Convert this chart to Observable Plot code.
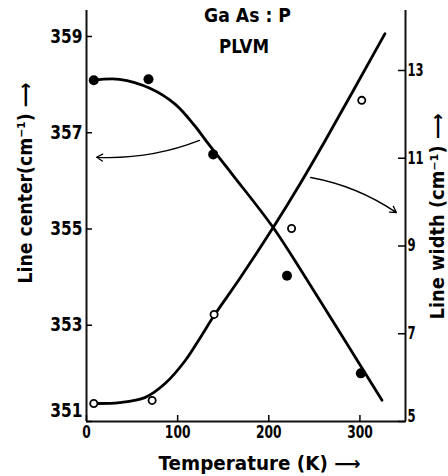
<!DOCTYPE html>
<html><head><meta charset="utf-8">
<script src="https://cdn.jsdelivr.net/npm/d3@7"></script>
<script src="https://cdn.jsdelivr.net/npm/@observablehq/plot@0.6"></script>
<style>
body{margin:0;background:#fff;}
#chart svg{font-family:"DejaVu Sans",sans-serif;}
#chart svg text{font-weight:700;}
</style></head><body><div id="chart"></div>
<script>
const title = "Ga As : P";
const subtitle = "PLVM";
const xLabel = "Temperature (K) \u27F6";
const yLeftLabel = "Line center(cm\u207B\u00B9) \u27F6";
const yRightLabel = "Line width (cm\u207B\u00B9) \u27F6";

const xTicks = [0, 100, 200, 300];
const centerTicks = [351, 353, 355, 357, 359];
const widthTicks = [5, 7, 9, 11, 13];

// measured points: line center (filled) and line width (open)
const centerDotT = [8, 68, 139, 220, 301];
const centerDotV = [358.09, 358.11, 356.55, 354.03, 352.00];
const widthDotT = [8, 72, 140, 225, 302];
const widthDotV = [5.41, 5.48, 7.44, 9.40, 12.32];

// drawn guide curves
const centerCurveT = [7.7, 36.1, 70.1, 97.5, 119.4, 132.5, 161.0, 204.8, 241.0, 324.2];
const centerCurveV = [358.09, 358.11, 357.92, 357.59, 357.13, 356.80, 356.11, 355.03, 353.97, 351.44];
const widthCurveT = [8.8, 36.1, 64.6, 86.5, 108.4, 124.8, 140.2, 167.6, 204.8, 234.4, 261.8, 327.5];
const widthCurveV = [5.41, 5.43, 5.55, 5.87, 6.39, 6.91, 7.42, 8.24, 9.42, 10.42, 11.40, 13.84];

// annotation arrows (temperature, line-center units)
const arrowFromT = [124, 246];
const arrowFromV = [356.84, 356.07];
const arrowToT = [11, 340];
const arrowToV = [356.49, 355.34];

const yMin = 351, yMax = 359.54, xMax = 350;
const k = 43.875 / 48.125;            // width units -> center units
const wToC = w => yMin + (w - 5) * k;
const cToW = c => 5 + (c - yMin) / k;

const centerDots = centerDotT.map((t, i) => ({t, v: centerDotV[i]}));
const widthDots = widthDotT.map((t, i) => ({t, v: wToC(widthDotV[i])}));
const centerCurve = centerCurveT.map((t, i) => ({t, v: centerCurveV[i]}));
const widthCurve = widthCurveT.map((t, i) => ({t, v: wToC(widthCurveV[i])}));
const arrows = arrowFromT.map((t, i) => ({x1: t, y1: arrowFromV[i], x2: arrowToT[i], y2: arrowToV[i]}));

const leftLen = 201, rightLen = 206;

const chart = Plot.plot({
  width: 448, height: 476,
  marginLeft: 86, marginRight: 43, marginTop: 10, marginBottom: 55,
  x: {domain: [0, xMax]},
  y: {domain: [yMin, yMax]},
  marks: [
    Plot.ruleX([0], {stroke: "#111", strokeWidth: 2}),
    Plot.ruleX([xMax], {stroke: "#111", strokeWidth: 2}),
    Plot.ruleY([yMin], {stroke: "#111", strokeWidth: 2}),
    Plot.axisX(xTicks, {tickSize: -6, tickPadding: 10, fontSize: 18, label: null, strokeWidth: 1.5}),
    Plot.axisY(centerTicks, {anchor: "left", tickSize: -6, tickPadding: 10, fontSize: 19.5, label: null, strokeWidth: 1.5}),
    Plot.axisY(widthTicks.map(wToC), {anchor: "right", tickSize: -8, tickPadding: 10, fontSize: 17, label: null, strokeWidth: 1.5,
      tickFormat: d => String(Math.round(cToW(d)))}),
    Plot.line(centerCurve, {x: "t", y: "v", curve: "catmull-rom", stroke: "#000", strokeWidth: 2.8}),
    Plot.line(widthCurve, {x: "t", y: "v", curve: "catmull-rom", stroke: "#000", strokeWidth: 2.8}),
    Plot.arrow(arrows, {x1: "x1", y1: "y1", x2: "x2", y2: "y2", bend: 12, stroke: "#000", strokeWidth: 1.3, headLength: 8}),
    Plot.dot(centerDots, {x: "t", y: "v", r: 5, fill: "#000", stroke: "none"}),
    Plot.dot(widthDots, {x: "t", y: "v", r: 3.6, fill: "#fff", stroke: "#000", strokeWidth: 1.8}),
    Plot.text([title], {frameAnchor: "top", dx: 1.5, dy: 5, fontSize: 20, lineAnchor: "middle"}),
    Plot.text([subtitle], {frameAnchor: "top", dx: -2, dy: 36.5, fontSize: 19, lineAnchor: "middle"}),
    Plot.text([xLabel], {frameAnchor: "bottom", dx: 13.5, dy: 42, fontSize: 19, lineAnchor: "middle"}),
    Plot.text([yLeftLabel], {frameAnchor: "left", dx: -61, dy: -33 + leftLen / 2, rotate: -90, textAnchor: "start", fontSize: 20, lineAnchor: "middle"}),
    Plot.text([yRightLabel], {frameAnchor: "right", dx: 32, dy: 0.5 + rightLen / 2, rotate: -90, textAnchor: "start", fontSize: 19, lineAnchor: "middle"})
  ]
});
document.getElementById("chart").append(chart);

// condensed lettering like the original figure
const svg = d3.select(chart);
function squeeze(sel, f) {
  sel.each(function() {
    const w = this.getComputedTextLength();
    this.setAttribute("textLength", (w * f).toFixed(1));
    this.setAttribute("lengthAdjust", "spacingAndGlyphs");
  });
}
function fit(sel, len) {
  sel.each(function() {
    this.setAttribute("textLength", len);
    this.setAttribute("lengthAdjust", "spacingAndGlyphs");
  });
}
function nudge(sel, label, dy) {
  sel.each(function() {
    if (this.textContent === label) {
      const t = this.getAttribute("transform") || "";
      this.setAttribute("transform", t + ` translate(0,${dy})`);
    }
  });
}
squeeze(svg.selectAll('g[aria-label="x-axis tick label"] text'), 0.68);
const yGroups = svg.selectAll('g[aria-label="y-axis tick label"]').nodes();
const leftLabels = d3.select(yGroups[0]).selectAll("text");
const rightLabels = d3.select(yGroups[1]).selectAll("text");
squeeze(leftLabels, 0.79);
squeeze(rightLabels, 0.68);
nudge(leftLabels, "351", -11);
nudge(rightLabels, "5", -5);
const textGroups = svg.selectAll('g[aria-label="text"]').nodes();
const lens = [87, 50, 202, leftLen, rightLen];
textGroups.forEach((g, i) => fit(d3.select(g).selectAll("text"), lens[i]));
</script></body></html>
